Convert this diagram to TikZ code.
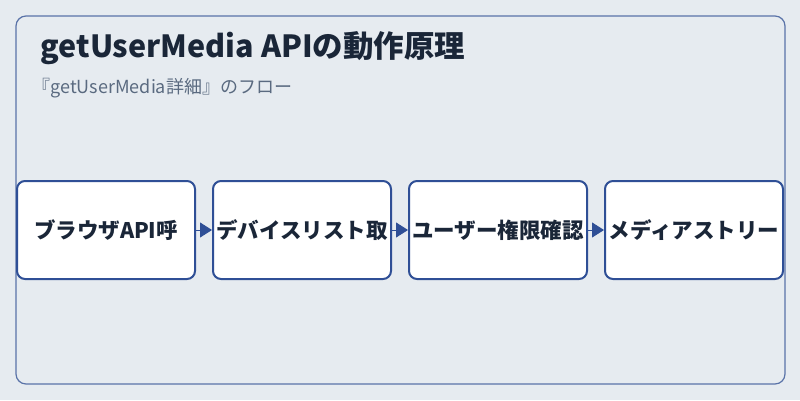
\documentclass[tikz,border=0pt]{standalone}
\usepackage{fontspec}
\setmainfont{Noto Sans CJK JP}
\usetikzlibrary{positioning,arrows.meta}
\definecolor{bgcol}{HTML}{E6EBF0}
\definecolor{framecol}{HTML}{5A73A8}
\definecolor{boxcol}{HTML}{2F4F96}
\definecolor{titlecol}{HTML}{1A2638}
\definecolor{subcol}{HTML}{5A6A80}
\begin{document}
\begin{tikzpicture}[
        x=1pt, y=-1pt,
        stagebox/.style={draw=boxcol, line width=2pt, fill=white, rounded corners=8pt,
            minimum width=178pt, minimum height=98pt, inner sep=0pt,
            font=\fontsize{21.5}{24}\selectfont\bfseries, text=titlecol},
        flow/.style={-{Triangle[length=12pt,width=15pt]}, boxcol, line width=1pt}
    ]
    % Hintergrund
    \fill[bgcol] (0,0) rectangle (800,400);
    \useasboundingbox (0,0) rectangle (800,400);
    \draw[framecol, line width=1.2pt, rounded corners=10pt, fill=bgcol] (16,16) rectangle (785,384);

    % Titel
    \node[anchor=west, text=titlecol, font=\fontsize{30.5}{34}\selectfont\bfseries] (title) at (37,48) {getUserMedia APIの動作原理};
    \node[anchor=west, text=subcol, font=\fontsize{18}{21}\selectfont] (subtitle) at (29,88) {『getUserMedia詳細』のフロー};

    % Schritte
    \node[stagebox] (call) at (106,230) {ブラウザAPI呼};
    \node[stagebox] (devices) at (302,230) {デバイスリスト取};
    \node[stagebox] (permit) at (498,230) {ユーザー権限確認};
    \node[stagebox] (stream) at (694,230) {メディアストリー};

    % Pfeile
    \draw[flow] (call.east) -- (devices.west);
    \draw[flow] (devices.east) -- (permit.west);
    \draw[flow] (permit.east) -- (stream.west);
\end{tikzpicture}
\end{document}
